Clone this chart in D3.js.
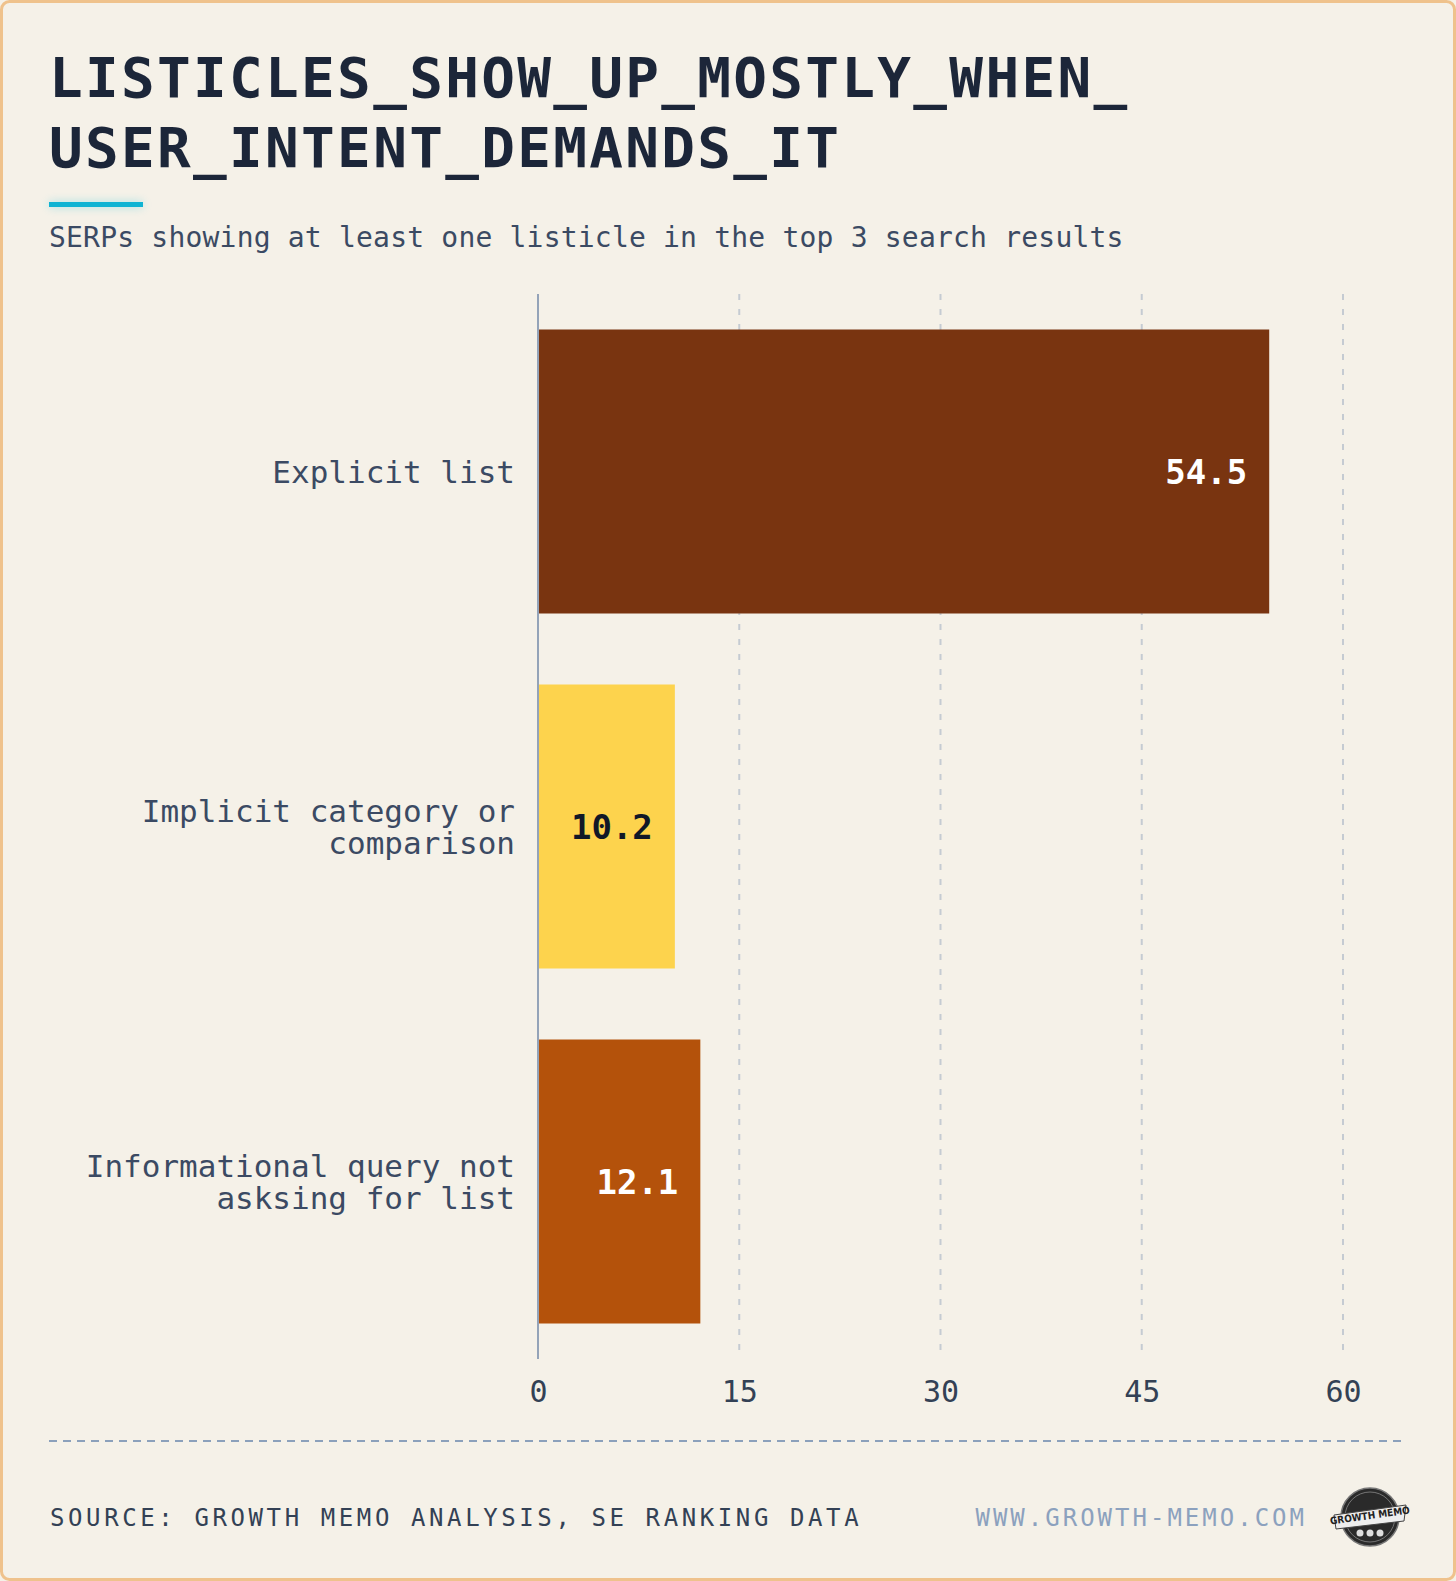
<!DOCTYPE html>
<html>
<head>
<meta charset="utf-8">
<script src="https://cdn.jsdelivr.net/npm/d3@7"></script>
<style>
  html, body { margin: 0; padding: 0; background: #f5f1e8; }
  svg { display: block; font-family: "DejaVu Sans Mono", monospace; }
</style>
</head>
<body>
<svg id="chart" width="1456" height="1581"></svg>
<script>
// chart data
const categories = ['Explicit list', 'Implicit category or comparison', 'Informational query not asksing for list'];
const values = [54.5, 10.2, 12.1];
const barColors = ['#793410', '#fdd34d', '#b4520b'];
const valueColors = ['#ffffff', '#111827', '#ffffff'];
const tickValues = [0, 15, 30, 45, 60];

const titleLines = ['LISTICLES_SHOW_UP_MOSTLY_WHEN_', 'USER_INTENT_DEMANDS_IT'];
const subtitle = 'SERPs showing at least one listicle in the top 3 search results';
const sourceText = 'SOURCE: GROWTH MEMO ANALYSIS, SE RANKING DATA';
const siteText = 'WWW.GROWTH-MEMO.COM';

const svg = d3.select('#chart');
const W = 1456, H = 1581;

// card background + border
svg.append('rect')
  .attr('x', 1.5).attr('y', 1.5)
  .attr('width', W - 3).attr('height', H - 3)
  .attr('rx', 8)
  .attr('fill', '#f5f1e8')
  .attr('stroke', '#efc28c')
  .attr('stroke-width', 3);

// title
svg.append('g').selectAll('text')
  .data(titleLines)
  .enter().append('text')
  .attr('x', 49)
  .attr('y', (d, i) => 97 + i * 70)
  .attr('fill', '#1c2639')
  .style('font-size', '56px')
  .style('font-weight', 'bold')
  .style('letter-spacing', '2.3px')
  .text(d => d);

// accent bar under title (with soft glow)
const defs = svg.append('defs');
const glow = defs.append('filter').attr('id', 'glow')
  .attr('x', '-30%').attr('y', '-300%').attr('width', '160%').attr('height', '700%');
glow.append('feGaussianBlur').attr('in', 'SourceGraphic').attr('stdDeviation', 5).attr('result', 'b');
const merge = glow.append('feMerge');
merge.append('feMergeNode').attr('in', 'b');
merge.append('feMergeNode').attr('in', 'SourceGraphic');

svg.append('rect')
  .attr('x', 49).attr('y', 202)
  .attr('width', 94).attr('height', 5)
  .attr('fill', '#06b6d4')
  .attr('opacity', 0.35)
  .attr('filter', 'url(#glow)');
svg.append('rect')
  .attr('x', 49).attr('y', 202)
  .attr('width', 94).attr('height', 5)
  .attr('fill', '#0fb3d3');

// subtitle
svg.append('text')
  .attr('x', 49).attr('y', 247)
  .attr('fill', '#3b4a63')
  .style('font-size', '28px')
  .style('letter-spacing', '0.2px')
  .text(subtitle);

// plot area
const margin = {top: 294, left: 538};
const plotW = 805, plotH = 1065;
const g = svg.append('g').attr('transform', 'translate(' + margin.left + ',' + margin.top + ')');

const x = d3.scaleLinear().domain([0, 60]).range([0, plotW]);
const y = d3.scaleBand().domain(categories).range([0, plotH]).paddingInner(0.2).paddingOuter(0.1);

// grid lines
g.selectAll('.grid')
  .data(tickValues.filter(t => t > 0))
  .enter().append('line')
  .attr('class', 'grid')
  .attr('x1', d => x(d)).attr('x2', d => x(d))
  .attr('y1', 0).attr('y2', plotH)
  .attr('stroke', '#c5cbd2')
  .attr('stroke-width', 2)
  .attr('stroke-dasharray', '6,9');

// bars
g.selectAll('.bar')
  .data(categories)
  .enter().append('rect')
  .attr('class', 'bar')
  .attr('x', 0)
  .attr('y', d => y(d))
  .attr('width', (d, i) => x(values[i]))
  .attr('height', y.bandwidth())
  .attr('fill', (d, i) => barColors[i]);

// zero axis line
g.append('line')
  .attr('x1', 0).attr('x2', 0)
  .attr('y1', 0).attr('y2', plotH)
  .attr('stroke', '#94a3b8')
  .attr('stroke-width', 2);

// value labels inside bars
g.selectAll('.val')
  .data(categories)
  .enter().append('text')
  .attr('class', 'val')
  .attr('x', (d, i) => x(values[i]) - 22)
  .attr('y', d => y(d) + y.bandwidth() / 2)
  .attr('dy', '0.36em')
  .attr('text-anchor', 'end')
  .attr('fill', (d, i) => valueColors[i])
  .style('font-size', '34px')
  .style('font-weight', 'bold')
  .text((d, i) => values[i].toFixed(1));

// x axis tick labels
const xAxis = d3.axisBottom(x).tickValues(tickValues).tickSize(0).tickPadding(22);
const ax = g.append('g')
  .attr('transform', 'translate(0,' + plotH + ')')
  .call(xAxis);
ax.select('.domain').remove();
ax.selectAll('text')
  .attr('fill', '#334155')
  .style('font-family', '"DejaVu Sans Mono", monospace')
  .style('font-size', '30px');

// category labels, wrapped
function wrap(str, maxChars) {
  const words = str.split(' ');
  const lines = [];
  let cur = '';
  words.forEach(w => {
    const next = cur ? cur + ' ' + w : w;
    if (next.length > maxChars && cur) { lines.push(cur); cur = w; }
    else cur = next;
  });
  lines.push(cur);
  return lines;
}

const lineH = 32;
g.selectAll('.cat')
  .data(categories)
  .enter().append('text')
  .attr('class', 'cat')
  .attr('text-anchor', 'end')
  .attr('fill', '#3b4a63')
  .style('font-size', '31px')
  .each(function(d) {
    const lines = wrap(d, 24);
    const cy = y(d) + y.bandwidth() / 2;
    const t = d3.select(this);
    lines.forEach((ln, i) => {
      t.append('tspan')
        .attr('x', -23)
        .attr('y', cy + (i - (lines.length - 1) / 2) * lineH)
        .attr('dy', '0.36em')
        .text(ln);
    });
  });

// footer
svg.append('line')
  .attr('x1', 49).attr('x2', 1405)
  .attr('y1', 1441).attr('y2', 1441)
  .attr('stroke', '#8ba0bb')
  .attr('stroke-width', 2)
  .attr('stroke-dasharray', '8,6');

svg.append('text')
  .attr('x', 50).attr('y', 1517)
  .attr('dy', '0.36em')
  .attr('fill', '#334155')
  .style('font-size', '24px')
  .style('letter-spacing', '3.6px')
  .text(sourceText);

svg.append('text')
  .attr('x', 1307).attr('y', 1517)
  .attr('dy', '0.36em')
  .attr('text-anchor', 'end')
  .attr('fill', '#8ca1be')
  .style('font-size', '24px')
  .style('letter-spacing', '3px')
  .text(siteText);

// small badge logo
const logo = svg.append('g').attr('transform', 'translate(1370,1517)');
logo.append('circle').attr('r', 29).attr('fill', '#2a2a2a').attr('stroke', '#777').attr('stroke-width', 1.5);
logo.append('circle').attr('r', 25).attr('fill', 'none').attr('stroke', '#888').attr('stroke-width', 0.8);
logo.append('path')
  .attr('d', 'M-36,-2 L36,-12 L34,4 L-34,12 Z')
  .attr('fill', '#eeeeee')
  .attr('stroke', '#444')
  .attr('stroke-width', 1);
logo.append('text')
  .attr('x', 0).attr('y', 2)
  .attr('text-anchor', 'middle')
  .attr('transform', 'rotate(-8)')
  .attr('fill', '#222')
  .style('font-family', '"DejaVu Sans Condensed", sans-serif')
  .style('font-size', '10px')
  .style('font-weight', 'bold')
  .text('GROWTH MEMO');
logo.selectAll('.fig')
  .data([-10, 0, 10])
  .enter().append('circle')
  .attr('cx', d => d).attr('cy', 16).attr('r', 3.5)
  .attr('fill', '#ddd');
</script>
</body>
</html>
